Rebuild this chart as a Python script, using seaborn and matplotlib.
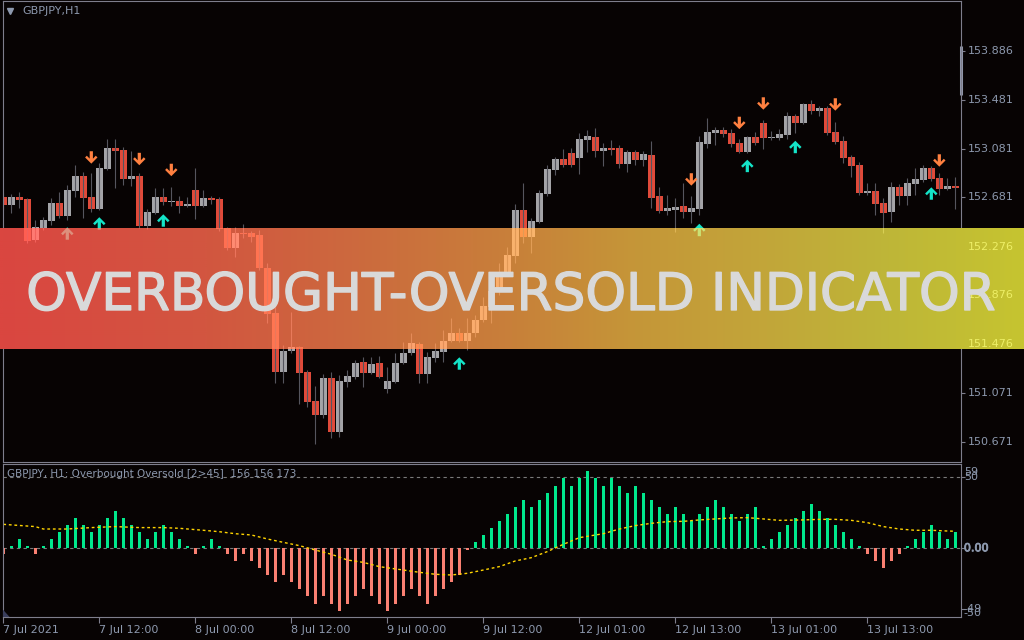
import matplotlib
matplotlib.use("Agg")
import numpy as np
import pandas as pd
import matplotlib.pyplot as plt
import seaborn as sns
from matplotlib import patheffects
from matplotlib.path import Path
from matplotlib.colors import LinearSegmentedColormap, to_rgb
from matplotlib.transforms import Bbox, TransformedBbox

# GBPJPY H1 candles
opens = [152.684, 152.618, 152.684, 152.667, 152.330, 152.429, 152.486, 152.634, 152.527, 152.733,
         152.857, 152.684, 152.585, 152.914, 153.087, 153.071, 152.832, 152.857, 152.445, 152.552,
         152.684, 152.643, 152.651, 152.610, 152.741, 152.610, 152.676, 152.667, 152.429, 152.264,
         152.387, 152.387, 152.371, 152.099, 151.729, 151.243, 151.416, 151.449, 151.243, 151.005,
         150.890, 151.194, 150.750, 151.161, 151.202, 151.326, 151.235, 151.318, 151.103, 151.161,
         151.318, 151.400, 151.474, 151.227, 151.359, 151.408, 151.499, 151.564, 151.499, 151.564,
         151.671, 151.778, 151.902, 152.050, 152.198, 152.577, 152.355, 152.478, 152.708, 152.906,
         152.996, 153.046, 153.005, 153.153, 153.177, 153.062, 153.087, 153.087, 152.955, 153.054,
         152.988, 153.029, 152.692, 152.569, 152.577, 152.610, 152.560, 152.585, 153.120, 153.210,
         153.235, 153.210, 153.128, 153.054, 153.177, 153.293, 153.169, 153.169, 153.194, 153.350,
         153.293, 153.449, 153.392, 153.416, 153.219, 153.145, 153.013, 152.947, 152.717, 152.733,
         152.634, 152.560, 152.766, 152.692, 152.791, 152.824, 152.922, 152.840, 152.750, 152.774]
closes = [152.618, 152.684, 152.659, 152.322, 152.437, 152.494, 152.634, 152.527, 152.741, 152.857,
          152.676, 152.585, 152.922, 153.087, 153.062, 152.832, 152.857, 152.445, 152.560, 152.684,
          152.643, 152.651, 152.610, 152.626, 152.610, 152.676, 152.659, 152.420, 152.264, 152.387,
          152.379, 152.355, 152.099, 151.721, 151.243, 151.416, 151.449, 151.235, 150.997, 150.890,
          151.194, 150.750, 151.169, 151.210, 151.318, 151.235, 151.309, 151.202, 151.169, 151.318,
          151.400, 151.482, 151.227, 151.367, 151.416, 151.499, 151.564, 151.499, 151.564, 151.671,
          151.787, 151.910, 152.050, 152.206, 152.577, 152.355, 152.486, 152.717, 152.914, 152.996,
          152.947, 152.947, 153.161, 153.186, 153.062, 153.087, 153.071, 152.955, 153.054, 152.988,
          153.038, 152.676, 152.569, 152.593, 152.601, 152.560, 152.593, 153.136, 153.219, 153.235,
          153.202, 153.120, 153.054, 153.177, 153.128, 153.169, 153.177, 153.202, 153.350, 153.293,
          153.449, 153.392, 153.416, 153.210, 153.136, 153.005, 152.939, 152.717, 152.733, 152.626,
          152.552, 152.766, 152.692, 152.799, 152.832, 152.922, 152.832, 152.750, 152.774, 152.758]
highs = [152.717, 152.708, 152.725, 152.676, 152.494, 152.519, 152.676, 152.725, 152.782, 152.947,
         152.889, 152.881, 152.964, 153.161, 153.161, 153.095, 153.062, 152.881, 152.585, 152.758,
         152.758, 152.766, 152.692, 152.684, 152.922, 152.741, 152.692, 152.684, 152.437, 152.437,
         152.461, 152.404, 152.412, 152.141, 151.778, 151.466, 151.737, 151.457, 151.260, 151.128,
         151.227, 151.243, 151.219, 151.260, 151.342, 151.367, 151.367, 151.375, 151.285, 151.400,
         151.490, 151.564, 151.490, 151.408, 151.482, 151.589, 151.688, 151.606, 151.688, 151.713,
         151.861, 152.058, 152.141, 152.272, 152.626, 152.799, 152.511, 152.741, 152.947, 153.013,
         153.079, 153.087, 153.210, 153.235, 153.252, 153.128, 153.153, 153.112, 153.071, 153.071,
         153.062, 153.145, 152.766, 152.700, 152.676, 152.799, 152.692, 153.186, 153.334, 153.260,
         153.260, 153.243, 153.161, 153.186, 153.219, 153.317, 153.227, 153.243, 153.383, 153.367,
         153.457, 153.482, 153.433, 153.433, 153.301, 153.186, 153.029, 152.972, 152.799, 152.799,
         152.676, 152.807, 152.791, 152.840, 152.922, 152.947, 152.939, 152.881, 152.840, 152.848]
lows = [152.577, 152.552, 152.593, 152.305, 152.313, 152.412, 152.453, 152.511, 152.494, 152.684,
        152.511, 152.560, 152.577, 152.906, 152.758, 152.782, 152.774, 152.429, 152.420, 152.544,
        152.618, 152.610, 152.552, 152.601, 152.503, 152.601, 152.626, 152.404, 152.248, 152.190,
        152.346, 152.313, 152.083, 151.647, 151.153, 151.153, 151.400, 150.980, 150.955, 150.651,
        150.865, 150.700, 150.709, 151.120, 151.186, 151.120, 151.227, 151.194, 151.071, 151.153,
        151.309, 151.383, 151.153, 151.153, 151.326, 151.326, 151.490, 151.490, 151.425, 151.532,
        151.655, 151.647, 151.877, 152.034, 152.141, 152.305, 152.223, 152.470, 152.692, 152.865,
        152.931, 152.931, 152.873, 153.054, 153.013, 152.939, 153.029, 152.922, 152.889, 152.947,
        152.939, 152.593, 152.552, 152.536, 152.396, 152.511, 152.470, 152.536, 153.087, 153.112,
        153.177, 153.095, 153.046, 153.046, 153.112, 153.079, 153.153, 153.153, 153.161, 153.210,
        153.284, 153.367, 153.350, 153.194, 153.120, 152.964, 152.848, 152.700, 152.700, 152.536,
        152.387, 152.478, 152.618, 152.618, 152.700, 152.807, 152.815, 152.700, 152.741, 152.585]

# signal arrows
sell_bars = [11, 17, 21, 86, 92, 95, 104, 117]
sell_prices = [153.009, 152.996, 152.906, 152.828, 153.293, 153.453, 153.445, 152.984]
buy_bars = [8, 12, 20, 57, 87, 93, 99, 116]
buy_prices = [152.383, 152.466, 152.490, 151.313, 152.412, 152.939, 153.095, 152.712]

# oscillator histogram (one value per bar) and its dotted signal line
osc_values = [-4.0, 1.6, 6.6, 1.6, -4.0, 1.6, 6.6, 11.5, 16.4, 21.4,
              16.4, 11.5, 16.4, 21.4, 26.3, 21.4, 16.4, 11.5, 6.6, 11.5,
              16.4, 11.5, 6.6, 1.6, -4.0, 1.6, 6.6, 1.6, -4.0, -8.9,
              -4.0, -8.9, -13.8, -18.8, -23.7, -18.8, -23.7, -28.6, -33.6, -39.0,
              -33.6, -39.0, -43.9, -39.0, -33.6, -28.6, -33.6, -39.0, -43.9, -39.0,
              -33.6, -28.6, -33.6, -39.0, -33.6, -28.6, -23.7, -18.8, -1.0, 4.2,
              9.2, 14.1, 19.0, 23.9, 28.9, 33.8, 28.9, 33.8, 38.7, 43.7,
              49.8, 43.7, 49.8, 54.5, 49.8, 43.7, 49.8, 43.7, 38.7, 43.7,
              38.7, 33.8, 28.9, 23.9, 28.9, 23.9, 19.0, 23.9, 28.9, 33.8,
              28.9, 23.9, 19.0, 23.9, 28.9, 1.6, 6.6, 11.5, 16.4, 21.4,
              26.3, 31.2, 26.3, 21.4, 16.4, 11.5, 6.6, 1.6, -4.0, -8.9,
              -13.8, -8.9, -4.0, 1.6, 6.6, 11.5, 16.4, 11.5, 6.6, 11.5]
signal_bars = [0, 4, 5, 8, 11, 14, 17, 20, 22, 25, 27, 29, 31, 33, 35, 37, 39, 41, 43, 45,
               47, 50, 52, 54, 56, 58, 60, 62, 64, 66, 68, 70, 72, 75, 77, 79, 81, 83, 85, 87,
               89, 91, 93, 95, 97, 100, 102, 104, 106, 108, 110, 112, 114, 116, 118, 119]
signal_values = [16.9, 15.3, 13.6, 13.6, 14.6, 15.3, 14.6, 14.6, 14.1, 12.7, 11.7, 10.3, 9.4, 6.6,
                 4.2, 1.9, -1.2, -4.2, -8.2, -9.9, -12.9, -15.3, -16.9, -18.3, -18.8, -17.6, -15.3,
                 -12.9, -8.9, -6.6, -2.3, 2.8, 7.5, 10.3, 13.6, 16.0, 17.6, 18.8, 19.0, 20.0, 20.7,
                 21.4, 21.6, 20.7, 19.7, 20.0, 20.4, 20.4, 19.7, 18.1, 15.3, 13.6, 12.7, 12.7, 12.2, 12.0]

price_ticks = [153.886, 153.481, 153.081, 152.681, 152.276, 151.876, 151.476, 151.071, 150.671]
time_ticks = [0, 12, 24, 36, 48, 60, 72, 84, 96, 108]
time_labels = ["7 Jul 2021", "7 Jul 12:00", "8 Jul 00:00", "8 Jul 12:00", "9 Jul 00:00",
               "9 Jul 12:00", "12 Jul 01:00", "12 Jul 13:00", "13 Jul 01:00", "13 Jul 13:00"]
osc_labels = [("59", 53.5), ("50", 50.0), ("0.00", 0.0), ("-49", -42.7), ("-50", -45.6)]

# colours
BG = "#070303"
FRAME = "#7e7e8c"
TXT = "#8d99ae"
BULL = "#a4a4a8"
BEAR = "#e04a3a"
WICK = "#55555e"
SELL = "#ff8040"
BUY = "#14e4c8"
OSC_UP = "#00e88c"
OSC_DN = "#fa8072"
SIG = "#ffd400"
LEVEL = "#7a7a7a"
band_stops = [(0.0, "#da4640"), (0.2, "#d25640"), (0.35, "#cc6a3e"), (0.5, "#c8803a"),
              (0.62, "#c59638"), (0.75, "#c2a63a"), (0.87, "#beb638"), (1.0, "#c6c430")]

sns.set_theme(style="dark", rc={"axes.facecolor": BG, "figure.facecolor": BG})
plt.rcParams["font.family"] = ["DejaVu Sans"]

W, H = 1024, 640
fig = plt.figure(figsize=(W / 100, H / 100), dpi=100)


def box(x0, y0, x1, y1):
    # pixel rectangle (top-left origin) -> figure fraction rect
    return [x0 / W, 1 - y1 / H, (x1 - x0) / W, (y1 - y0) / H]


main_box = box(2.7, 1.3, 961, 461.7)
sub_box = box(2.7, 464, 961, 617.3)
band_box = box(0, 228, 1024, 349)
XLIM = (-0.075, 119.71)
YLIM = (150.505, 154.294)
OLIM = (-48.6, 59.4)
band_lo, band_hi = YLIM[0] + (YLIM[1] - YLIM[0]) * (band_box[1] - main_box[1]) / main_box[3], \
    YLIM[0] + (YLIM[1] - YLIM[0]) * (band_box[1] + band_box[3] - main_box[1]) / main_box[3]

ax = fig.add_axes(main_box, label="price")
ax2 = fig.add_axes(sub_box, label="osc")
for a in (ax, ax2):
    a.set_facecolor(BG)
    a.grid(False)
    for s in a.spines.values():
        s.set_color(FRAME)
        s.set_linewidth(0.8)

df = pd.DataFrame({"bar": np.arange(len(opens)), "open": opens, "high": highs,
                   "low": lows, "close": closes})
df["bull"] = df["close"] >= df["open"]
df["body_lo"] = df[["open", "close"]].min(axis=1)
df["body_h"] = (df["close"] - df["open"]).abs().clip(lower=0.009)

up_path = Path([(0, 0.5), (0.5, 0.0), (0.36, -0.14), (0.13, 0.1), (0.13, -0.5), (-0.13, -0.5),
                (-0.13, 0.1), (-0.36, -0.14), (-0.5, 0.0), (0, 0.5)],
               [Path.MOVETO] + [Path.LINETO] * 8 + [Path.CLOSEPOLY])
down_path = Path(up_path.vertices * [1, -1], up_path.codes)


def draw_candles(target, body_cols, wick_cols, sell_cols, buy_cols, clip=None):
    arts = []
    arts.append(target.vlines(df["bar"], df["low"], df["high"], colors=wick_cols, lw=0.8))
    arts.extend(target.bar(df["bar"], df["body_h"], bottom=df["body_lo"], width=0.85,
                           color=body_cols, linewidth=0))
    arts.append(target.scatter(sell_bars, sell_prices, marker=down_path, s=80, c=sell_cols,
                               linewidths=0, zorder=4))
    arts.append(target.scatter(buy_bars, buy_prices, marker=up_path, s=80, c=buy_cols,
                               linewidths=0, zorder=4))
    if clip is not None:
        for art in arts:
            art.set_clip_box(clip)
    return arts


body_colors = [BULL if b else BEAR for b in df["bull"]]
draw_candles(ax, body_colors, WICK, [SELL] * len(sell_bars), [BUY] * len(buy_bars))
ax.set_xlim(*XLIM)
ax.set_ylim(*YLIM)
ax.set_xticks([])
ax.yaxis.tick_right()
ax.set_yticks(price_ticks)
ax.set_yticklabels([])
ax.tick_params(axis="y", length=3, width=0.8, color=FRAME, right=True, left=False)
for p in price_ticks:
    if band_lo < p < band_hi:
        continue  # these sit under the banner and are drawn tinted further down
    ax.text(1.0076, p, f"{p:.3f}", transform=ax.get_yaxis_transform(), color=TXT, fontsize=8,
            ha="left", va="center", clip_on=False)

ax.plot([1, 1], [0.7965, 0.903], transform=ax.transAxes, color="#9097aa", lw=2.2,
        solid_capstyle="butt", clip_on=False)
ax.plot([0.0076], [0.978], marker="v", ms=5, color=TXT, transform=ax.transAxes, clip_on=False)
ax.text(0.0201, 0.978, "GBPJPY,H1", transform=ax.transAxes, color=TXT, fontsize=8, va="center")

# oscillator panel
osc = pd.DataFrame({"bar": np.arange(len(osc_values)), "value": osc_values})
osc["dir"] = np.where(osc["value"] >= 0, "up", "down")
sns.barplot(data=osc, x="bar", y="value", hue="dir", palette={"up": OSC_UP, "down": OSC_DN},
            width=0.375, dodge=False, legend=False, saturation=1, linewidth=0, ax=ax2)
for lvl in (50, 0):
    ax2.axhline(lvl, color=LEVEL, lw=0.8, ls=(0, (3, 3)), zorder=0.5)
sns.lineplot(x=signal_bars, y=signal_values, ax=ax2, color=SIG, lw=1, linestyle=(0, (2, 2)))
ax2.set_xlim(*XLIM)
ax2.set_ylim(*OLIM)
ax2.set_xlabel("")
ax2.set_ylabel("")
ax2.set_xticks(time_ticks)
ax2.set_xticklabels(time_labels, ha="left", color=TXT, fontsize=8)
ax2.tick_params(axis="x", length=4, width=0.8, color=FRAME, pad=1.5, bottom=True)
ax2.yaxis.tick_right()
ax2.set_yticks([50, 0, -42.7])
ax2.set_yticklabels([])
ax2.tick_params(axis="y", length=3, width=0.8, color=FRAME, right=True, left=False)
ax2.text(0.004, 0.935, "GBPJPY, H1: Overbought Oversold [2>45]  156 156 173", transform=ax2.transAxes,
         color=TXT, fontsize=7.5, va="center", zorder=5)
ax2.fill([0, 0.0065, 0], [0, 0, 0.045], transform=ax2.transAxes, color="#3a3e5c", zorder=5)
sub_clip = TransformedBbox(Bbox([[sub_box[0] + sub_box[2], sub_box[1]], [1, sub_box[1] + sub_box[3]]]),
                           fig.transFigure)
for lab, v in osc_labels:
    t = ax2.text(1.003, v, lab, transform=ax2.get_yaxis_transform(), color=TXT, fontsize=8,
                 ha="left", va="center")
    if lab == "0.00":
        t.set_path_effects([patheffects.withStroke(linewidth=0.6, foreground=TXT)])
    t.set_clip_box(sub_clip)
    t.set_clip_on(True)

# translucent gradient banner across the price panel
band_cmap = LinearSegmentedColormap.from_list("band", band_stops)
bax = fig.add_axes(band_box, zorder=5, label="band")
bax.imshow(np.linspace(0, 1, 512).reshape(1, -1), aspect="auto", cmap=band_cmap,
           extent=[0, 1, 0, 1], interpolation="bilinear")
bax.set_xlim(0, 1)
bax.set_ylim(0, 1)
bax.axis("off")


def lift(color, x_fig):
    # what lies under the banner shows through as a light additive tint
    base = np.array(band_cmap(x_fig)[:3])
    return tuple(np.clip(base + 0.3 * np.array(to_rgb(color)), 0, 1))


gax = fig.add_axes(main_box, zorder=6, label="ghost")
gax.set_xlim(*XLIM)
gax.set_ylim(*YLIM)
gax.axis("off")
band_clip = TransformedBbox(Bbox([[0, band_box[1]], [1, band_box[1] + band_box[3]]]), fig.transFigure)
bar_xf = ax.transData.transform(np.c_[df["bar"], df["low"]])[:, 0] / fig.bbox.width
ghost_body = [lift(c, xf) for c, xf in zip(body_colors, bar_xf)]
ghost_wick = [lift(WICK, xf) for xf in bar_xf]
draw_candles(gax, ghost_body, ghost_wick,
             [lift(SELL, bar_xf[b]) for b in sell_bars],
             [lift(BUY, bar_xf[b]) for b in buy_bars], clip=band_clip)
for p in price_ticks:
    if not band_lo < p < band_hi:
        continue
    t = gax.text(1.0076, p, f"{p:.3f}", transform=gax.get_yaxis_transform(), color=lift(TXT, 0.965),
                 fontsize=8, ha="left", va="center")
    t.set_clip_box(band_clip)
    t.set_clip_on(True)

title = fig.text(0.499, 1 - 310 / H, "OVERBOUGHT-OVERSOLD INDICATOR", ha="center", va="baseline",
                 fontsize=40, color="#d9d9d9", zorder=10)
w = title.get_window_extent(renderer=fig.canvas.get_renderer()).width
title.set_fontsize(40 * 970 / w)
title.set_path_effects([patheffects.withStroke(linewidth=1.0, foreground="#d9d9d9")])

fig.savefig("out.png", dpi=100, facecolor=BG)
